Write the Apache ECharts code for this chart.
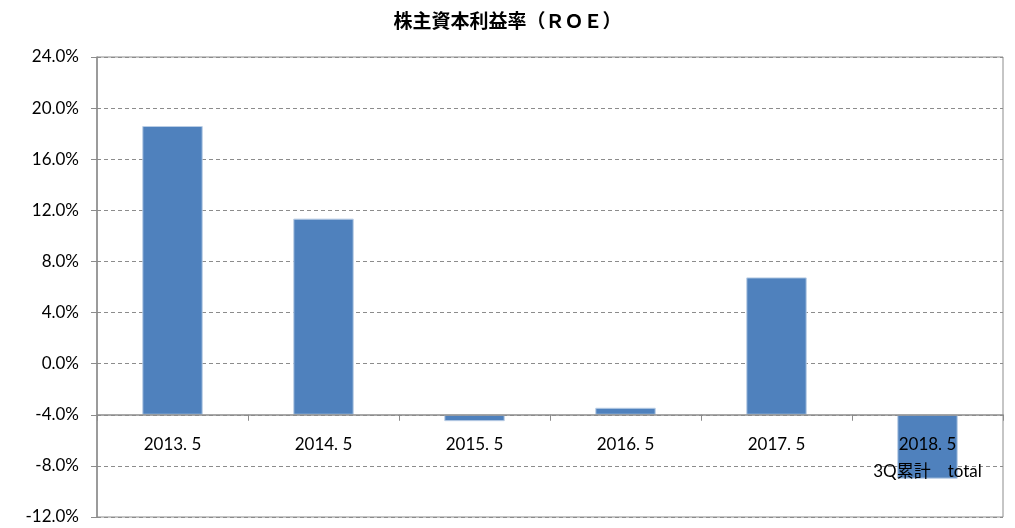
<!DOCTYPE html>
<html>
<head>
<meta charset="utf-8">
<script src="https://cdn.jsdelivr.net/npm/echarts@6/dist/echarts.min.js"></script>
<style>
  html, body { margin: 0; padding: 0; background: #fff; }
  #chart { width: 1015px; height: 528px; }
</style>
</head>
<body>
<div id="chart"></div>
<script>
const categories = ['2013. 5', '2014. 5', '2015. 5', '2016. 5', '2017. 5', '2018. 5\n3Q累計　total']
const roe = [18.6, 11.35, -4.5, -3.45, 6.75, -9.0]
// the bars grow from -4% in the original, so the axis is shifted by this much
const base = -4
const yMin = -12
const yMax = 24
const yStep = 4

const chart = echarts.init(document.getElementById('chart'))
const labelFont = 'Lato, "Noto Sans CJK JP", sans-serif'

const option = {
  backgroundColor: '#fff',
  animation: false,
  title: {
    text: '株主資本利益率（ＲＯＥ）',
    left: 'center',
    top: 6,
    textStyle: {
      fontFamily: '"Noto Sans CJK JP", sans-serif',
      fontSize: 19,
      fontWeight: 'bold',
      color: '#000'
    }
  },
  grid: {
    left: 97,
    right: 12,
    top: 57,
    bottom: 11,
    outerBoundsMode: 'none',
    containLabel: false,
    show: true,
    borderColor: '#8c8c8c',
    borderWidth: 1
  },
  xAxis: {
    type: 'category',
    data: categories,
    z: 5,
    axisLine: { onZero: true, lineStyle: { color: '#8c8c8c', width: 1.5 } },
    axisTick: { show: true, length: 6, alignWithLabel: false, lineStyle: { color: '#8c8c8c' } },
    axisLabel: {
      color: '#000',
      fontFamily: labelFont,
      fontSize: 17,
      margin: -86,
      lineHeight: 27
    }
  },
  yAxis: {
    type: 'value',
    min: yMin - base,
    max: yMax - base,
    interval: yStep,
    axisLine: { show: true, lineStyle: { color: '#8c8c8c', width: 1.5 } },
    axisTick: { show: true, length: 6, lineStyle: { color: '#8c8c8c' } },
    splitLine: { show: true, lineStyle: { color: '#8c8c8c', type: [4, 3], width: 1 } },
    axisLabel: {
      color: '#000',
      fontFamily: labelFont,
      fontSize: 17,
      margin: 18,
      formatter: v => (v + base).toFixed(1) + '%'
    }
  },
  series: [{
    type: 'bar',
    data: roe.map(v => v - base),
    barWidth: '40%',
    itemStyle: { color: '#4F81BD', borderColor: '#B9CDE5', borderWidth: 1 },
    z: 1
  }]
}
chart.setOption(option)
</script>
</body>
</html>
